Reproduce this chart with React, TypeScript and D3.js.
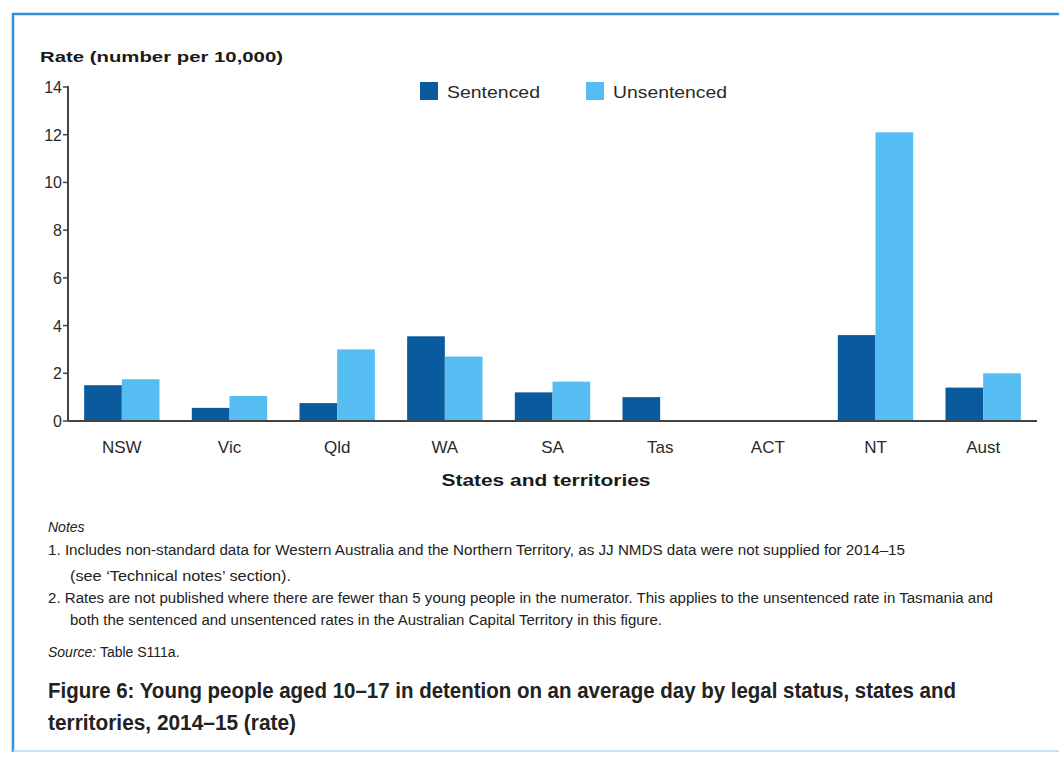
import React from "react";
import * as d3 from "d3";

const categories = ["NSW", "Vic", "Qld", "WA", "SA", "Tas", "ACT", "NT", "Aust"];
const sentenced: (number | null)[] = [1.5, 0.55, 0.75, 3.55, 1.2, 1.0, null, 3.6, 1.4];
const unsentenced: (number | null)[] = [1.75, 1.05, 3.0, 2.7, 1.65, null, null, 12.1, 2.0];
const yTicks = [0, 2, 4, 6, 8, 10, 12, 14];
const seriesNames = ["Sentenced", "Unsentenced"];
const colors = ["#0a5a9e", "#55bdf2"];
const notes = [
  "1.  Includes non-standard data for Western Australia and the Northern Territory, as JJ NMDS data were not supplied for 2014–15",
  "(see ‘Technical notes’ section).",
  "2.  Rates are not published where there are fewer than 5 young people in the numerator. This applies to the unsentenced rate in Tasmania and",
  "both the sentenced and unsentenced rates in the Australian Capital Territory in this figure.",
];
const titleLines = [
  "Figure 6: Young people aged 10–17 in detention on an average day by legal status, states and",
  "territories, 2014–15 (rate)",
];

const W = 1059;
const H = 758;
const left = 68;
const right = 1037;
const top = 87;
const bottom = 421;

export default function App() {
  const x = d3.scaleBand<string>().domain(categories).range([left, right]).paddingInner(0).paddingOuter(0);
  const y = d3.scaleLinear().domain([0, 14]).range([bottom, top]);
  const bw = x.bandwidth() * 0.35;
  const cond = "'Liberation Sans Narrow', 'Liberation Sans', Arial, sans-serif";
  const sans = "'Liberation Sans', Arial, sans-serif";
  const noteLens = [857, 221, 945, 592];
  const noteX = [48, 70, 48, 70];
  const noteY = [555, 581, 603, 625];
  const legX = [420, 586];
  const legLen = [93, 114];
  return (
    <svg width={W} height={H} style={{ position: "absolute", left: 0, top: 0, background: "#fff" }}>
      <line x1={13} x2={13} y1={13} y2={752} stroke="#2f93d3" strokeWidth={2.5} />
      <line x1={12} x2={W} y1={14} y2={14} stroke="#2f93d3" strokeWidth={2.5} />
      <line x1={13} x2={W} y1={751} y2={751} stroke="#b9d8ea" strokeWidth={1.5} />
      <text x={40} y={62} fontFamily={sans} fontWeight="bold" fontSize={15} fill="#1a1a1a" textLength={243} lengthAdjust="spacingAndGlyphs">
        Rate (number per 10,000)
      </text>
      {/* legend */}
      {seriesNames.map((s, i) => (
        <g key={s} transform={`translate(${legX[i]},82)`}>
          <rect x={0} y={0} width={18} height={18} fill={colors[i]} />
          <text x={27} y={16} fontFamily={sans} fontSize={17} fill="#2a2a2a" textLength={legLen[i]} lengthAdjust="spacingAndGlyphs">
            {s}
          </text>
        </g>
      ))}
      {/* y axis */}
      <line x1={left} x2={left} y1={top - 1} y2={bottom} stroke="#444" strokeWidth={2} />
      {yTicks.map((t) => (
        <g key={t}>
          <line x1={left - 5} x2={left} y1={y(t)} y2={y(t)} stroke="#444" strokeWidth={1.5} />
          <text x={left - 6} y={y(t) + 6} textAnchor="end" fontFamily={sans} fontSize={16} fill="#2a2a2a">
            {t}
          </text>
        </g>
      ))}
      {/* bars */}
      {categories.map((c, i) => {
        const cx = (x(c) as number) + x.bandwidth() / 2;
        return (
          <g key={c}>
            {sentenced[i] != null && (
              <rect x={cx - bw} y={y(sentenced[i] as number)} width={bw} height={bottom - y(sentenced[i] as number)} fill={colors[0]} />
            )}
            {unsentenced[i] != null && (
              <rect x={cx} y={y(unsentenced[i] as number)} width={bw} height={bottom - y(unsentenced[i] as number)} fill={colors[1]} />
            )}
            <text x={cx} y={453} textAnchor="middle" fontFamily={sans} fontSize={17} fill="#2a2a2a">
              {c}
            </text>
          </g>
        );
      })}
      <line x1={left} x2={right} y1={bottom} y2={bottom} stroke="#444" strokeWidth={2} />
      <text x={546} y={486} textAnchor="middle" fontFamily={sans} fontWeight="bold" fontSize={16} fill="#1a1a1a" textLength={209} lengthAdjust="spacingAndGlyphs">
        States and territories
      </text>
      {/* notes */}
      <text x={48} y={532} fontFamily={cond} fontStyle="italic" fontSize={14} fill="#222">
        Notes
      </text>
      {notes.map((n, i) => (
        <text key={i} x={noteX[i]} y={noteY[i]} fontFamily={cond} fontSize={14} fill="#222" textLength={noteLens[i]} lengthAdjust="spacingAndGlyphs">
          {n}
        </text>
      ))}
      <text x={48} y={657} fontFamily={cond} fontSize={14} fill="#222">
        <tspan fontStyle="italic">Source:</tspan> Table S111a.
      </text>
      {titleLines.map((t, i) => (
        <text key={i} x={48} y={698 + i * 32} fontFamily={cond} fontWeight="bold" fontSize={22} fill="#222" textLength={i === 0 ? 908 : 248} lengthAdjust="spacingAndGlyphs">
          {t}
        </text>
      ))}
    </svg>
  );
}
